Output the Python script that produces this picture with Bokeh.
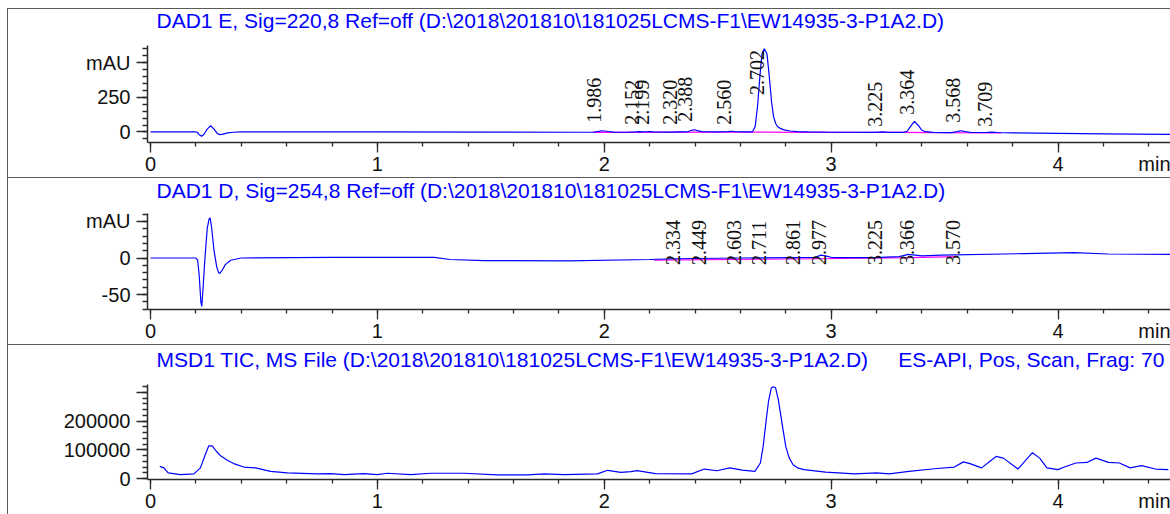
import math
from bokeh.plotting import figure
from bokeh.layouts import column, row
from bokeh.models import FixedTicker, LabelSet, Label, ColumnDataSource, Range1d, Spacer
from bokeh.embed import file_html
from bokeh.resources import INLINE

# ---------------- data ----------------
# Panel 1: DAD1 E, 220 nm  (mAU)
dad_e_time = [0.00, 0.20, 0.206, 0.215, 0.225, 0.235, 0.250, 0.265, 0.280, 0.295, 0.306, 0.320,
              0.340, 0.366, 0.40, 1.00, 1.50, 1.90, 1.95, 1.975, 1.99, 2.01, 2.04, 2.10, 2.14,
              2.155, 2.17, 2.19, 2.20, 2.215, 2.30, 2.32, 2.34, 2.37, 2.385, 2.397, 2.41, 2.43,
              2.50, 2.545, 2.56, 2.575, 2.62, 2.640, 2.654, 2.665, 2.676, 2.686, 2.695, 2.705,
              2.717, 2.727, 2.737, 2.746, 2.755, 2.763, 2.778, 2.793, 2.82, 2.851, 2.90, 3.00,
              3.20, 3.225, 3.25, 3.32, 3.335, 3.35, 3.367, 3.385, 3.40, 3.415, 3.45, 3.53, 3.555,
              3.573, 3.59, 3.62, 3.69, 3.71, 3.73, 3.80, 4.00, 4.20, 4.50]
dad_e_mau = [0, 0, -2, -20, -31, -18, 20, 45, 20, -12, -19, -15,
             -7, -2, 0, 0, -1, -2, -2, 4, 9, 5, -1, -2, 0,
             3, 1, 2, 3, 0, -1, 1, 0, 3, 12, 16, 10, 2,
             0, 2, 5, 2, 0, 0, 3, 39, 193, 405, 565, 600,
             565, 405, 222, 111, 63, 40, 24, 15, 7, 2, 0, -2,
             -3, 0, -3, -3, 5, 40, 76, 45, 12, 2, -3, -5, 2,
             9, 3, -4, -3, -1, -4, -6, -10, -14, -18]
dad_e_base_time = [1.95, 2.64, 2.90, 3.32, 3.45, 3.75]
dad_e_base_mau = [-3, -1, -3, -3, -5, -6]
dad_e_peak_rt = [1.986, 2.152, 2.199, 2.320, 2.388, 2.560, 2.702, 3.225, 3.364, 3.568, 3.709]
dad_e_label_mau = [66, 52, 52, 52, 74, 52, 266, 38, 124, 66, 38]

# Panel 2: DAD1 D, 254 nm  (mAU)
dad_d_time = [0.00, 0.20, 0.208, 0.215, 0.222, 0.226, 0.232, 0.240, 0.250, 0.258, 0.263, 0.270,
              0.280, 0.292, 0.300, 0.306, 0.315, 0.330, 0.353, 0.40, 0.80, 1.25, 1.32, 1.47,
              1.84, 2.20, 2.31, 2.60, 2.93, 2.955, 2.975, 3.00, 3.04, 3.19, 3.30, 3.34, 3.37,
              3.40, 3.485, 3.85, 4.07, 4.22, 4.50]
dad_d_mau = [0, 0, -3, -25, -60, -66, -40, 0, 40, 53, 55, 40,
             10, -12, -20, -21, -17, -9, -3, 0, 1, 1, -2, -3.5,
             -4, -2, -1, 0, 1, 4, 3, 1, 0.5, 0.5, 2, 5, 4,
             3, 4, 6, 7.5, 5.5, 5]
dad_d_base_time = [2.22, 2.95, 3.35, 3.55]
dad_d_base_mau = [-3, -1, 0.5, 2]
dad_d_peak_rt = [2.334, 2.449, 2.603, 2.711, 2.861, 2.977, 3.225, 3.366, 3.570]
dad_d_label_mau = [-9.5, -9.5, -9.5, -9.5, -9.5, -9.5, -9.5, -9.5, -9.5]

# Panel 3: MSD1 TIC (counts)
tic_time = [0.041, 0.059, 0.078, 0.132, 0.191, 0.22, 0.24, 0.257, 0.272, 0.290, 0.309, 0.340,
            0.367, 0.411, 0.463, 0.529, 0.603, 0.735, 0.794, 0.853, 0.941, 1.0, 1.044, 1.147,
            1.235, 1.382, 1.529, 1.662, 1.735, 1.823, 1.970, 2.015, 2.073, 2.117, 2.145, 2.225,
            2.385, 2.441, 2.497, 2.552, 2.608, 2.664, 2.688, 2.700, 2.712, 2.724, 2.736, 2.745,
            2.755, 2.767, 2.779, 2.790, 2.800, 2.815, 2.832, 2.855, 2.880, 2.976, 3.104, 3.200,
            3.256, 3.343, 3.455, 3.543, 3.583, 3.615, 3.663, 3.727, 3.759, 3.823, 3.887, 3.919,
            3.951, 3.999, 4.031, 4.079, 4.127, 4.167, 4.222, 4.270, 4.318, 4.367, 4.430, 4.486]
tic_counts = [42400, 37000, 19600, 13800, 16000, 37000, 80000, 114000, 114000, 95000, 79000, 63000,
              52000, 40000, 37000, 25000, 19600, 16000, 17000, 13800, 17000, 13800, 18400, 13800,
              18400, 18400, 12600, 12600, 16000, 13800, 16000, 28600, 21700, 24000, 27600, 17000,
              16000, 33000, 27000, 37000, 29000, 25000, 54000, 110000, 192000, 270000, 315000, 320000,
              316000, 275000, 215000, 160000, 111000, 72000, 48000, 36000, 31000, 22000, 16000, 19600,
              16000, 25000, 34000, 40000, 58000, 51000, 37000, 77000, 71000, 33000, 90000, 71000,
              37000, 31000, 41000, 54000, 56000, 71000, 56000, 54000, 37000, 45000, 33000, 31000]

# axis ticks: short ticks every 0.2 min, long ticks at whole minutes
x_short = [round(0.2 * i, 1) for i in range(23)]
x_long = [0, 1, 2, 3, 4]
x_labels = {0.0: "0", 1.0: "1", 2.0: "2", 3.0: "3", 4.0: "4"}
x_unit = "min"
x_unit_tick = 4.4
e_major = [0, 250, 500]
e_labels = {0: "0", 250: "250", 500: "mAU"}
d_major = [-50, 0, 50]
d_labels = {-50: "-50", 0: "0", 50: "mAU"}
t_major = [0, 100000, 200000, 300000]
t_labels = {0: "0", 100000: "100000", 200000: "200000", 300000: ""}

titles = [
    "DAD1 E, Sig=220,8 Ref=off (D:\\2018\\201810\\181025LCMS-F1\\EW14935-3-P1A2.D)",
    "DAD1 D, Sig=254,8 Ref=off (D:\\2018\\201810\\181025LCMS-F1\\EW14935-3-P1A2.D)",
    "MSD1 TIC, MS File (D:\\2018\\201810\\181025LCMS-F1\\EW14935-3-P1A2.D)",
]
title3_right = "ES-API, Pos, Scan, Frag: 70"

# ---------------- styling / layout ----------------
FONT = "Liberation Sans"
BLUE = "#0000ff"
MAGENTA = "#ff00ff"
AXIS = "#2a2a2a"
FRAME_LINE = "1px solid #5a5a5a"
NB = "\u00a0"
XSTART, XEND = -0.0132, 4.5
PAGE_W = 1170
LEFT_PAD = 7
BORDER_L = 139
FRAME_L = LEFT_PAD + 1 + BORDER_L   # page x of the plotting frame's left edge (147)


def title_strip(page_top, page_bottom, texts):
    """Header strip with the blue signal description; coordinates are page pixels."""
    h = page_bottom - page_top
    t = figure(width=PAGE_W - LEFT_PAD, height=h,
               x_range=Range1d(FRAME_L, PAGE_W), y_range=Range1d(page_bottom, page_top + 1),
               x_axis_type=None, y_axis_type=None, output_backend="svg", toolbar_location=None,
               min_border_left=BORDER_L, min_border_right=0, min_border_top=0,
               min_border_bottom=0,
               styles={"border-top": FRAME_LINE, "border-left": FRAME_LINE})
    t.outline_line_color = None
    t.grid.visible = False
    for (x, y, s) in texts:
        t.add_layout(Label(x=x, y=y, text=s, text_font=FONT, text_font_size="21px",
                           text_color=BLUE, text_align="left", text_baseline="middle"))
    return t


def chart(height, btop, bbot, yr, major, minor, labels):
    p = figure(width=PAGE_W - LEFT_PAD, height=height, x_range=Range1d(XSTART, XEND),
               y_range=Range1d(*yr), output_backend="svg", toolbar_location=None,
               min_border_left=BORDER_L, min_border_right=0, min_border_top=btop,
               min_border_bottom=bbot, styles={"border-left": FRAME_LINE})
    p.outline_line_color = None
    p.grid.visible = False

    xl = {t: "" for t in x_short}
    xl.update(x_labels)
    xl[x_unit_tick] = NB * 4 + x_unit
    p.xaxis.ticker = FixedTicker(ticks=x_short, minor_ticks=x_long)
    p.xaxis.major_label_overrides = xl
    p.yaxis.ticker = FixedTicker(ticks=major, minor_ticks=minor)
    p.yaxis.major_label_overrides = labels
    for ax in (p.xaxis, p.yaxis):
        ax.axis_line_color = AXIS
        ax.axis_line_width = 1.5
        ax.major_tick_line_color = AXIS
        ax.minor_tick_line_color = AXIS
        ax.major_tick_line_width = 1.3
        ax.minor_tick_line_width = 1.3
        ax.major_tick_in = 0
        ax.minor_tick_in = 0
        ax.major_label_text_font = FONT
        ax.major_label_text_font_size = "20px"
        ax.major_label_text_color = "#111111"
    p.xaxis.major_tick_out = 4
    p.xaxis.minor_tick_out = 10
    p.xaxis.major_label_standoff = 0
    p.yaxis.major_tick_out = 11
    p.yaxis.minor_tick_out = 5
    p.yaxis.major_label_standoff = 6
    return p


def peak_labels(p, rts, ys):
    src = ColumnDataSource(dict(x=rts, y=ys, t=["%.3f" % v for v in rts]))
    p.add_layout(LabelSet(x="x", y="y", text="t", source=src, angle=math.pi / 2,
                          text_align="left", text_baseline="bottom", text_font=FONT,
                          text_font_size="20px", text_color="#111111"))


# Panel 1
h1 = title_strip(8, 40, [(156, 19.5, titles[0])])
p1 = chart(137, 5, 34, (-76, 624), e_major, list(range(-50, 651, 50)), e_labels)
p1.line(dad_e_base_time, dad_e_base_mau, line_color=MAGENTA, line_width=1.2)
p1.line(dad_e_time, dad_e_mau, line_color=BLUE, line_width=1.2)
peak_labels(p1, dad_e_peak_rt, dad_e_label_mau)

# Panel 2
h2 = title_strip(177, 205, [(156, 190, titles[1])])
p2 = chart(139, 8, 34, (-70.3, 60.8), d_major, list(range(-70, 61, 10)), d_labels)
p2.line(dad_d_base_time, dad_d_base_mau, line_color=MAGENTA, line_width=1.2)
p2.line(dad_d_time, dad_d_mau, line_color=BLUE, line_width=1.2)
peak_labels(p2, dad_d_peak_rt, dad_d_label_mau)

# Panel 3
h3 = title_strip(344, 374, [(156, 359, titles[2]), (897, 359, title3_right)])
p3 = chart(140, 10, 34, (-3450, 327600), t_major, list(range(0, 327600, 20000)), t_labels)
p3.line(tic_time, tic_counts, line_color=BLUE, line_width=1.2)

layout = row(Spacer(width=LEFT_PAD, height=514),
             column(Spacer(width=PAGE_W - LEFT_PAD, height=8), h1, p1, h2, p2, h3, p3, spacing=0),
             spacing=0)
open("out.html", "w").write(file_html(layout, INLINE))
